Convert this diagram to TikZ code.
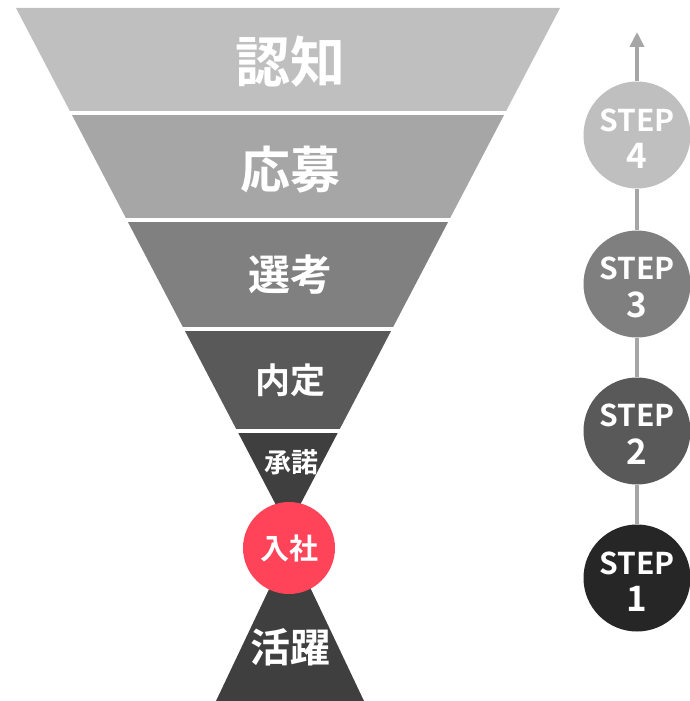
\documentclass[tikz,border=0pt]{standalone}
\usepackage{fontspec}
\usepackage{xcolor}
\usepackage{tikz}
\usetikzlibrary{arrows.meta}
\newfontfamily\jp{Noto Sans CJK JP}[BoldFont={Noto Sans CJK JP Bold}]
\definecolor{bandA}{HTML}{BFBFBF}
\definecolor{bandB}{HTML}{A6A6A6}
\definecolor{bandC}{HTML}{808080}
\definecolor{bandD}{HTML}{595959}
\definecolor{bandE}{HTML}{3F3F3F}
\definecolor{nyushared}{HTML}{FF4459}
\definecolor{stepA}{HTML}{262626}
\definecolor{stepB}{HTML}{595959}
\definecolor{stepC}{HTML}{7F7F7F}
\definecolor{stepD}{HTML}{BFBFBF}
\definecolor{stepline}{HTML}{A6A6A6}
\def\funnel{(16,8) -- (560,8) -- (288,528) -- cycle}
\def\katsuyakuarea{(216,701) -- (364,701) -- (290,545) -- cycle}
\def\stepno#1{\raisebox{-8pt}[\height][\depth]{\begin{tabular}{@{}c@{}}STEP\\[2pt]\fontsize{35}{35}\selectfont #1\end{tabular}}}
\tikzset{
  bandlabel/.style={text=white,font=\jp\bfseries},
  stepcircle/.style={circle,minimum size=107pt,inner sep=0pt,text=white,
    font=\jp\bfseries\fontsize{30}{34}\selectfont},
  steplink/.style={draw=stepline,line width=4pt}
}

\begin{document}
\begin{tikzpicture}[x=1pt,y=-1pt]
    \useasboundingbox (0,0) rectangle (690,701);
      \begin{scope}
    \clip \funnel;
    \fill[bandA] (0,0) rectangle (690,111);
    \fill[bandB] (0,115) rectangle (690,218);
    \fill[bandC] (0,222) rectangle (690,327);
    \fill[bandD] (0,331) rectangle (690,429);
    \fill[bandE] (0,433) rectangle (690,600);
      \end{scope}
    \fill[bandE] \katsuyakuarea;
    \node[bandlabel,font=\jp\bfseries\fontsize{55}{55}\selectfont] (ninchi) at (290,62) {認知};
    \node[bandlabel,font=\jp\bfseries\fontsize{50}{50}\selectfont] (oubo) at (290,170) {応募};
    \node[bandlabel,font=\jp\bfseries\fontsize{42}{42}\selectfont] (senkou) at (290,275) {選考};
    \node[bandlabel,font=\jp\bfseries\fontsize{35}{35}\selectfont] (naitei) at (290,380) {内定};
    \node[bandlabel,font=\jp\bfseries\fontsize{27}{27}\selectfont] (shoudaku) at (291,462) {承諾};
    \node[bandlabel,circle,fill=nyushared,minimum size=92pt,inner sep=0pt,
      font=\jp\bfseries\fontsize{29}{29}\selectfont] (nyusha) at (289,548) {入社};
    \node[bandlabel,font=\jp\bfseries\fontsize{40}{40}\selectfont] (katsuyaku) at (290,647) {活躍};
      % steps
    \node[stepcircle,fill=stepA] (step1) at (637,578) {\stepno{1}};
    \node[stepcircle,fill=stepB] (step2) at (637,431) {\stepno{2}};
    \node[stepcircle,fill=stepC] (step3) at (637,284) {\stepno{3}};
    \node[stepcircle,fill=stepD] (step4) at (637,135) {\stepno{4}};
    \coordinate (steptop) at (637,32);
      \draw[steplink] (step1) -- (step2);
      \draw[steplink] (step2) -- (step3);
      \draw[steplink] (step3) -- (step4);
      \draw[steplink,-{Triangle[width=14pt,length=15pt]}] (step4) -- (steptop);
    \end{tikzpicture}
\end{document}
